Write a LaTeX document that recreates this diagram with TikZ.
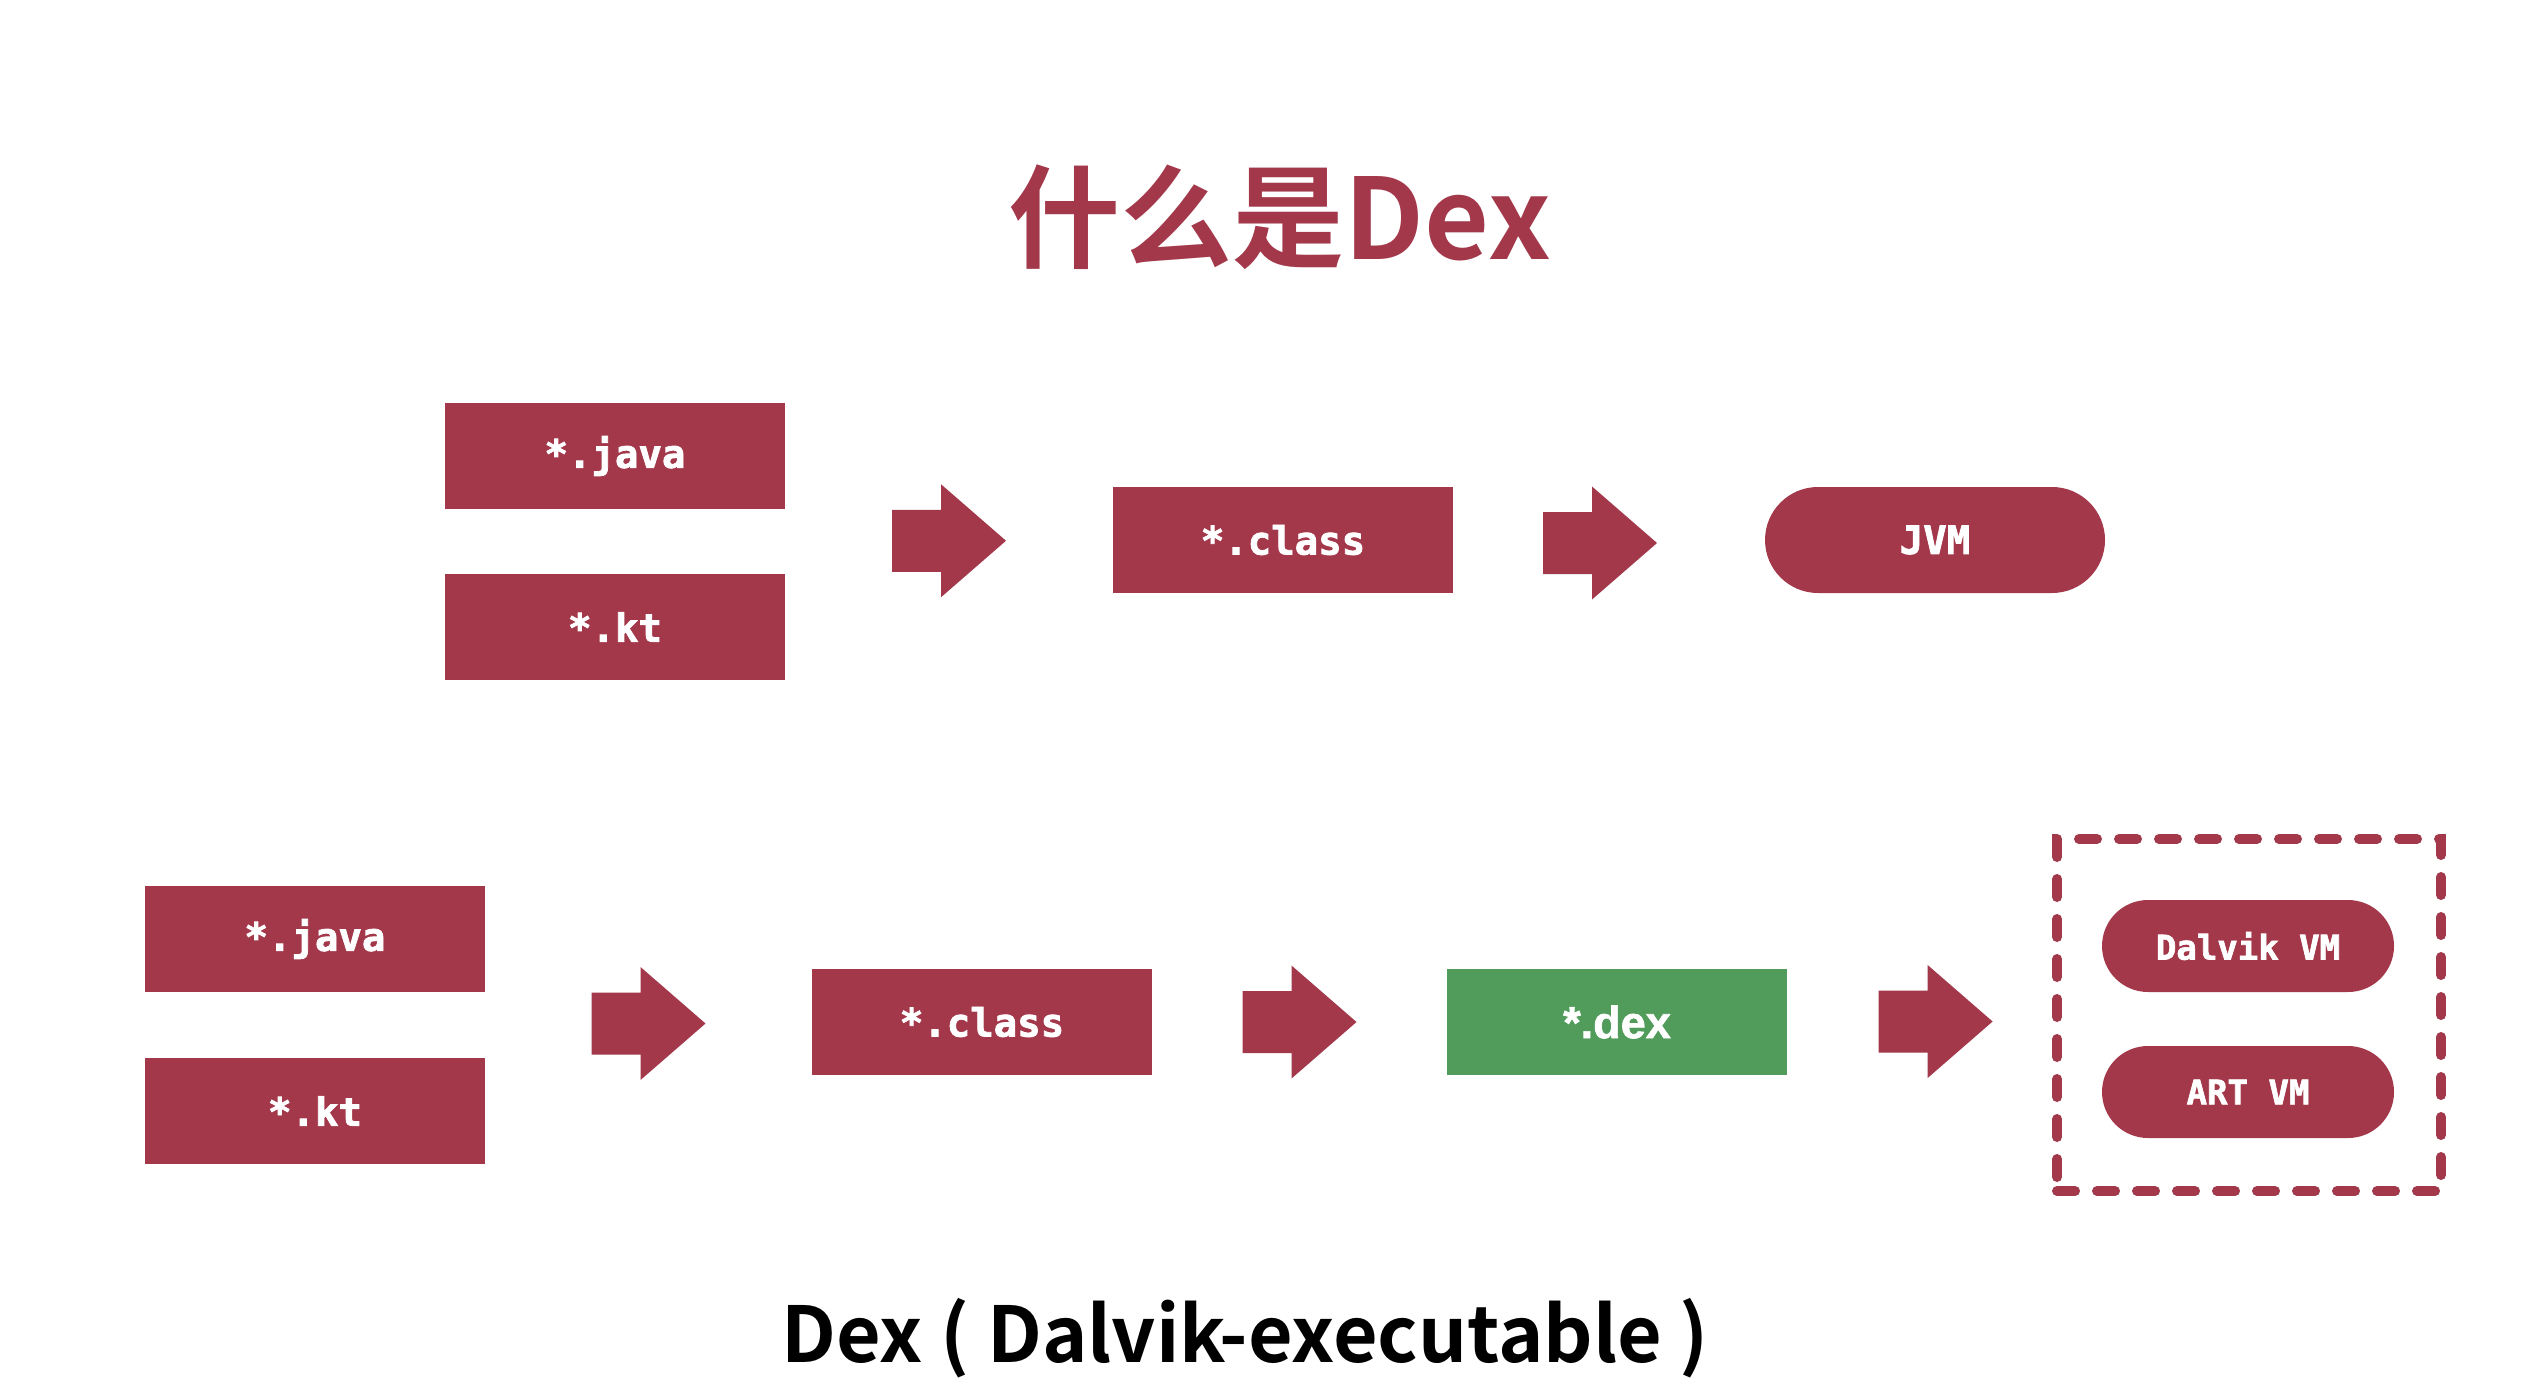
\documentclass[tikz,border=0pt]{standalone}
\usepackage{fontspec}
\newfontfamily\monob{DejaVu Sans Mono Bold}[FakeBold=2]
\newfontfamily\cjkb{Noto Sans CJK SC Bold}
\newfontfamily\dexfont{Liberation Sans Bold}[FakeBold=1.5]
\usetikzlibrary{calc}
\definecolor{crimson}{HTML}{A3384B}
\definecolor{dexgreen}{HTML}{519B5B}

\begin{document}
\begin{tikzpicture}[x=1pt,y=-1pt,
  filebox/.style={fill=crimson, minimum width=340pt, minimum height=106pt,
    inner sep=0pt, text=white,
    font=\monob\fontsize{39}{40}\selectfont},
  vmpill/.style={filebox, rounded corners=53pt},
  smallpill/.style={filebox, minimum width=292pt, minimum height=92pt,
    rounded corners=46pt, font=\monob\fontsize{34}{36}\selectfont},
  dexbox/.style={filebox, fill=dexgreen,
    font=\dexfont\fontsize{45}{46}\selectfont},
  vmframe/.style={draw=crimson, line width=10pt, dash pattern=on 18pt off 22pt,
    line cap=round, minimum width=384pt, minimum height=352pt, inner sep=0pt},
  blockarrow/.pic={\fill[crimson] (-57,-31) -- (-8,-31) -- (-8,-56.5) -- (57,0)
    -- (-8,56.5) -- (-8,31) -- (-57,31) -- cycle;},
]
\useasboundingbox (0,0) rectangle (2526,1386);
\fill[white] (0,0) rectangle (2526,1386);

% title
\node[font=\cjkb\fontsize{112}{114}\selectfont, text=crimson] (title) at (1280,217) {什么是Dex};

% JVM pipeline
\node[filebox] (java1) at (615,456) {*.java};
\node[filebox] (kt1) at (615,627) {*.kt};
\node[filebox] (class1) at (1283,540) {*.class};
\node[vmpill] (jvm) at (1935,540) {JVM};
\coordinate (src1) at ($(java1.east)!0.5!(kt1.east)$);
\path ($(src1)!0.5!(class1.west)$) pic {blockarrow};
\path ($(class1.east)!0.5!(jvm.west)$) ++(-9,3) pic {blockarrow};

% Android pipeline
\node[filebox] (java2) at (315,939) {*.java};
\node[filebox] (kt2) at (315,1111) {*.kt};
\node[filebox] (class2) at (982,1022) {*.class};
\node[dexbox] (dex) at (1617,1022) {*.dex};
\node[vmframe] (vms) at (2249,1015) {};
\node[smallpill] (dalvik) at (2248,946) {Dalvik VM};
\node[smallpill] (art) at (2248,1092) {ART VM};
\coordinate (src2) at ($(java2.east)!0.5!(kt2.east)$);
\path ($(src2)!0.5!(class2.west)$) pic {blockarrow};
\path ($(class2.east)!0.5!(dex.west)$) pic {blockarrow};
\path ($(dex.east)!0.5!(vms.west)$ |- dex) ++(16,3) pic {blockarrow};

% caption
\node[font=\cjkb\fontsize{77}{80}\selectfont] (caption) at (1245,1338) {Dex ( Dalvik-executable )};
\end{tikzpicture}
\end{document}
